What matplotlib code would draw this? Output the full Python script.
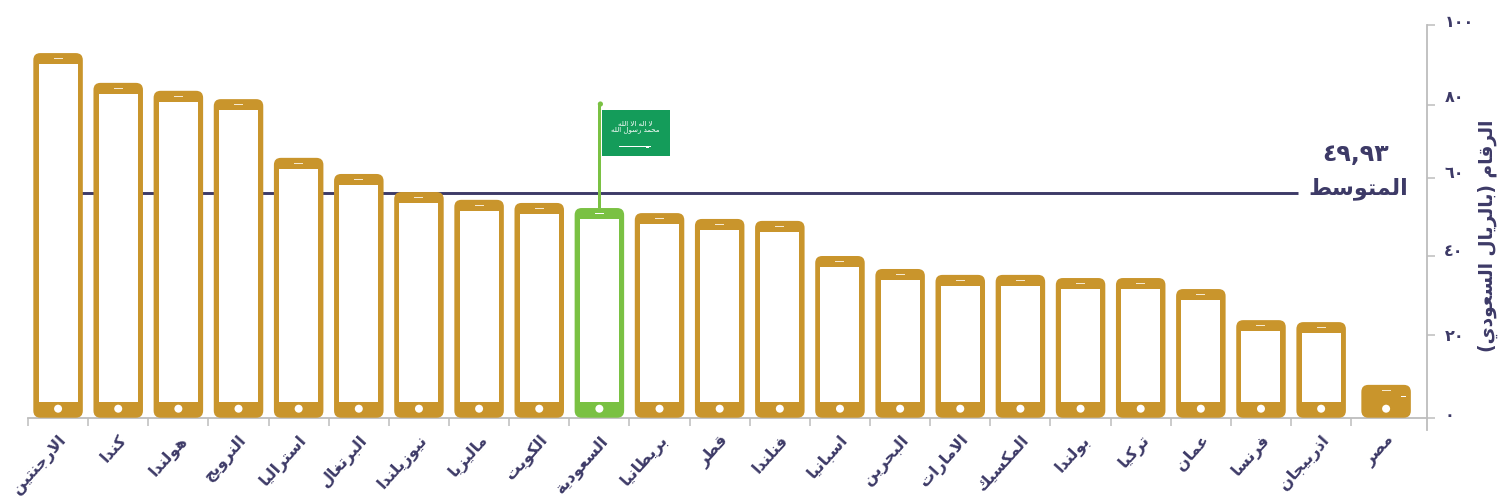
import numpy as np
import matplotlib
matplotlib.use("Agg")
import matplotlib.pyplot as plt
from matplotlib.patches import FancyBboxPatch, Rectangle, Circle
from matplotlib.transforms import IdentityTransform, ScaledTranslation
from matplotlib.lines import Line2D
from matplotlib.scale import FuncScale

countries = ["الارجنتين", "كندا", "هولندا", "النرويج", "استراليا", "البرتغال", "نيوزيلندا",
             "ماليزيا", "الكويت", "السعودية", "بريطانيا", "قطر", "فنلندا", "اسبانيا", "البحرين",
             "الامارات", "المكسيك", "بولندا", "تركيا", "عمان", "فرنسا", "اذربيجان", "مصر"]
values = [93.0, 85.5, 83.5, 81.4, 65.5, 61.1, 56.4, 54.4, 53.6, 52.3, 51.0, 49.5, 49.0,
          40.0, 36.7, 35.2, 35.2, 34.4, 34.4, 31.6, 23.7, 23.2, 8.0]
y_ticks = [0, 20, 40, 60, 80, 100]
y_tick_labels = ["٠", "٢٠", "٤٠", "٦٠", "٨٠", "١٠٠"]
y_tick_rows = [0, 83.6, 162.3, 240.3, 313.6, 393.0]  # the printed axis is unevenly spaced
mean_drawn_level = 56.1
mean_label = "٤٩,٩٣"
mean_title = "المتوسط"
y_title = "الرقام (بالريال السعودي)"
highlight = "السعودية"
flag_lines = ["لا اله الا الله", "محمد رسول الله"]

INK = "#3d3a67"
GOLD = "#c9952c"
GREEN = "#7ac143"
FLAG = "#149c5a"
GREY = "#bdbdbd"
CREAM = "#f6e9cf"
FONT = "DejaVu Sans"

FORMS = {
    "ا": (0xFE8D, 2), "ب": (0xFE8F, 4), "ة": (0xFE93, 2), "ت": (0xFE95, 4), "ج": (0xFE9D, 4),
    "ح": (0xFEA1, 4), "د": (0xFEA9, 2), "ذ": (0xFEAB, 2), "ر": (0xFEAD, 2), "ز": (0xFEAF, 2),
    "س": (0xFEB1, 4), "ص": (0xFEB9, 4), "ط": (0xFEC1, 4), "ع": (0xFEC9, 4), "غ": (0xFECD, 4),
    "ف": (0xFED1, 4), "ق": (0xFED5, 4), "ك": (0xFED9, 4), "ل": (0xFEDD, 4), "م": (0xFEE1, 4),
    "ن": (0xFEE5, 4), "ه": (0xFEE9, 4), "و": (0xFEED, 2), "ي": (0xFEF1, 4),
}


def shape(text):
    """Arabic joining and visual ordering, since matplotlib does neither."""
    out = []
    i = 0
    n = len(text)
    prev_joins = False
    while i < n:
        c = text[i]
        if c not in FORMS:
            out.append({"(": ")", ")": "("}.get(c, c))
            prev_joins = False
            i += 1
            continue
        if c == "ل" and i + 1 < n and text[i + 1] == "ا":
            out.append(chr(0xFEFC if prev_joins else 0xFEFB))
            prev_joins = False
            i += 2
            continue
        base, count = FORMS[c]
        next_exists = i + 1 < n and text[i + 1] in FORMS
        joins_next = count == 4 and next_exists
        if prev_joins and joins_next:
            code = base + 3
        elif prev_joins:
            code = base + 1
        elif joins_next:
            code = base + 2
        else:
            code = base
        out.append(chr(code))
        prev_joins = joins_next
        i += 1
    return "".join(reversed(out))


W, H = 1500, 503
fig = plt.figure(figsize=(W / 100, H / 100), dpi=100, facecolor="white")
AX_L, AX_R, AX_T, AX_B = 28, 1427, 25.3, 418.3
ax = fig.add_axes([AX_L / W, 1 - AX_B / H, (AX_R - AX_L) / W, (AX_B - AX_T) / H])

ax.set_yscale(FuncScale(ax.yaxis, (lambda v: np.interp(v, y_ticks, y_tick_rows),
                                   lambda r: np.interp(r, y_tick_rows, y_ticks))))
ax.set_ylim(0, 100)
ax.set_xlim(-0.5, 22.76)

centres = np.arange(len(countries), dtype=float)
centres[-1] += 0.08  # the last phone sits a little apart

for s in ("top", "left"):
    ax.spines[s].set_visible(False)
for s in ("bottom", "right"):
    ax.spines[s].set_color(GREY)
    ax.spines[s].set_linewidth(1.3)
ax.patch.set_alpha(0)

ax.yaxis.tick_right()
ax.set_yticks(y_ticks)
ax.set_yticklabels(y_tick_labels, fontsize=11.5, fontweight="bold", color=INK, family=FONT, ha="left")
ax.tick_params(axis="y", length=5.5, width=1.1, color=GREY, pad=7)
nudges = [3, 0, 4, 4, 6, 3]
for lab, nudge in zip(ax.get_yticklabels(), nudges):
    lab.set_transform(lab.get_transform() + ScaledTranslation(0, nudge / 72, fig.dpi_scale_trans))

ax.set_xticks(np.arange(len(countries)) - 0.5)
ax.set_xticklabels([])
ax.tick_params(axis="x", which="major", length=5.5, width=1.1, color=GREY)
ax.set_xticks(centres, minor=True)
ax.set_xticklabels([shape(c) for c in countries], minor=True, rotation=48, ha="right",
                   va="top", rotation_mode="anchor", fontsize=11.5, fontweight="bold",
                   color=INK, family=FONT)
ax.tick_params(axis="x", which="minor", length=0, pad=10)

ax.add_line(Line2D([1, 1], [-0.03, 0], transform=ax.transAxes, color=GREY, lw=1.3, clip_on=False))

ax.plot([centres[0], centres[20] + 0.62], [mean_drawn_level] * 2, color=INK, lw=2.1, zorder=2,
        solid_capstyle="butt")

identity = IdentityTransform()


def rr(x0, y0, x1, y1, r, color, z):
    return FancyBboxPatch((x0 + r, y0 + r), x1 - x0 - 2 * r, y1 - y0 - 2 * r,
                          boxstyle=f"round,pad={r},rounding_size={r}", fc=color, ec="none",
                          transform=identity, zorder=z, clip_on=False)


def rect(x0, y0, x1, y1, color, z):
    return Rectangle((x0, y0), x1 - x0, y1 - y0, fc=color, ec="none", transform=identity,
                     zorder=z, clip_on=False)


for name, x, v in zip(countries, centres, values):
    color = GREEN if name == highlight else GOLD
    px, base = ax.transData.transform((x, 0))
    _, top = ax.transData.transform((x, v))
    base += 0.6
    fig.add_artist(rr(px - 24.75, base, px + 24.75, top, 7, color, 5))
    fig.add_artist(Circle((px, base + 9), 4, fc="white", ec="none", transform=identity, zorder=7))
    fig.add_artist(rect(px - 4.5, top - 6.2, px + 4.5, top - 4.8, "white" if name == highlight else CREAM, 7))
    if top - base > 45:
        fig.add_artist(rect(px - 19.5, base + 16, px + 19.5, top - 11, "white", 6))
    else:
        fig.add_artist(rect(px + 15, top - 11.8, px + 20, top - 10.8, "white", 7))
    if name == highlight:
        fig.add_artist(rect(px - 1.5, top, px + 1.5, top + 104, GREEN, 4))
        fig.add_artist(Circle((px + 1, top + 104), 2.6, fc=GREEN, ec="none", transform=identity, zorder=4))
        fig.add_artist(rect(px + 3, top + 52, px + 71, top + 98, FLAG, 4))
        fig.text(px + 36, top + 81, shape(flag_lines[0]) + "\n" + shape(flag_lines[1]), transform=identity,
                 ha="center", va="center", fontsize=5, linespacing=0.8, color="white",
                 family=FONT, zorder=6)
        fig.add_artist(rect(px + 20, top + 60.8, px + 52, top + 61.6, "white", 6))
        fig.add_artist(rect(px + 47, top + 60, px + 50, top + 62.4, "white", 6))

fig.text(1356 / W, 1 - 154 / H, mean_label, ha="center", va="center", fontsize=17,
         fontweight="bold", color=INK, family=FONT)
fig.text(1358.5 / W, 1 - 189 / H, shape(mean_title), ha="center", va="center", fontsize=16,
         fontweight="bold", color=INK, family=FONT)
fig.text(1488 / W, 1 - 236 / H, shape(y_title), ha="center", va="center", rotation=90,
         fontsize=13.4, fontweight="bold", color=INK, family=FONT)

fig.savefig("out.png", dpi=100, facecolor="white")
